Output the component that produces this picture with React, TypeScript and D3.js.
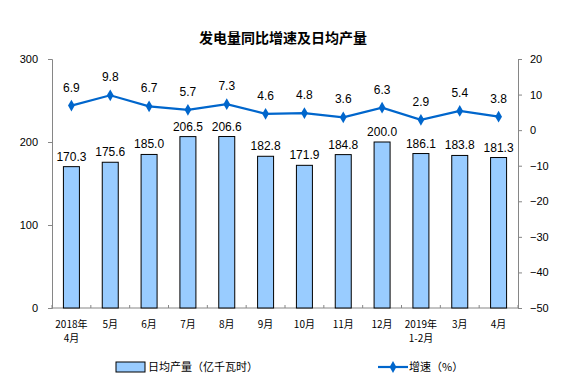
import React, { useEffect, useRef } from 'react';
import * as d3 from 'd3';

const categories = ['2018年\n4月', '5月', '6月', '7月', '8月', '9月', '10月', '11月', '12月', '2019年\n1-2月', '3月', '4月'];
const dailyOutput = [170.3, 175.6, 185.0, 206.5, 206.6, 182.8, 171.9, 184.8, 200.0, 186.1, 183.8, 181.3];
const growthRate = [6.9, 9.8, 6.7, 5.7, 7.3, 4.6, 4.8, 3.6, 6.3, 2.9, 5.4, 3.8];
const leftTicks = [0, 100, 200, 300];
const rightTicks = [-50, -40, -30, -20, -10, 0, 10, 20];

const W = 584;
const H = 392;
const MARGIN = { top: 59, right: 66, bottom: 84, left: 52 };

const App: React.FC = () => {
  const svgRef = useRef<SVGSVGElement>(null);

  useEffect(() => {
    const svg = d3.select(svgRef.current);
    svg.selectAll('*').remove();

    const chartW = W - MARGIN.left - MARGIN.right;
    const chartH = H - MARGIN.top - MARGIN.bottom;
    const g = svg.append('g').attr('transform', `translate(${MARGIN.left},${MARGIN.top})`);

    const x = d3.scaleBand().domain(categories).range([0, chartW]);
    const yL = d3.scaleLinear().domain([0, 300]).range([chartH, 0]);
    const yR = d3.scaleLinear().domain([-50, 20]).range([chartH, 0]);

    const axisColor = '#868686';
    const numFont = 'Liberation Sans, Arial, sans-serif';
    const cjkFont = 'Noto Sans CJK SC, sans-serif';

    // title
    svg.append('text')
      .attr('x', 283).attr('y', 43)
      .attr('text-anchor', 'middle')
      .style('font-family', cjkFont)
      .style('font-size', '14px')
      .style('font-weight', 'bold')
      .text('发电量同比增速及日均产量');

    // left axis
    const axL = g.append('g').call(d3.axisLeft(yL).tickValues(leftTicks).tickSize(4).tickPadding(10).tickFormat(d3.format('d')));
    axL.select('.domain').attr('stroke', axisColor);
    axL.selectAll('line').attr('stroke', axisColor);
    axL.selectAll('text').style('font-family', numFont).style('font-size', '11px').attr('fill', '#000');

    // right axis
    const axR = g.append('g').attr('transform', `translate(${chartW},0)`)
      .call(d3.axisRight(yR).tickValues(rightTicks).tickSize(4).tickPadding(8).tickFormat(d3.format('d')));
    axR.select('.domain').attr('stroke', axisColor);
    axR.selectAll('line').attr('stroke', axisColor);
    axR.selectAll('text').style('font-family', numFont).style('font-size', '11px').attr('fill', '#000');

    // bottom axis line with ticks between categories
    g.append('line')
      .attr('x1', 0).attr('x2', chartW).attr('y1', chartH).attr('y2', chartH)
      .attr('stroke', axisColor);
    g.selectAll('.btick')
      .data(d3.range(categories.length + 1))
      .enter().append('line')
      .attr('x1', i => i * x.step()).attr('x2', i => i * x.step())
      .attr('y1', chartH).attr('y2', chartH - 3)
      .attr('stroke', axisColor);

    // category labels
    const catG = g.selectAll('.cat')
      .data(categories)
      .enter().append('text')
      .attr('text-anchor', 'middle')
      .style('font-family', cjkFont)
      .style('font-size', '10px')
      .attr('fill', '#000');
    catG.each(function (d) {
      const lines = d.split('\n');
      const t = d3.select(this);
      lines.forEach((ln, i) => {
        t.append('tspan')
          .attr('x', x(d)! + x.bandwidth() / 2)
          .attr('y', chartH + 20 + i * 14)
          .text(ln);
      });
    });

    // bars
    const barW = 16;
    g.selectAll('.bar')
      .data(dailyOutput)
      .enter().append('rect')
      .attr('x', (d, i) => x(categories[i])! + (x.bandwidth() - barW) / 2)
      .attr('y', d => yL(d))
      .attr('width', barW)
      .attr('height', d => chartH - yL(d))
      .attr('fill', '#99CCFF')
      .attr('stroke', '#000')
      .attr('stroke-width', 1);

    g.selectAll('.barlabel')
      .data(dailyOutput)
      .enter().append('text')
      .attr('x', (d, i) => x(categories[i])! + x.bandwidth() / 2)
      .attr('y', d => yL(d) - 6)
      .attr('text-anchor', 'middle')
      .style('font-family', numFont)
      .style('font-size', '12px')
      .text(d => d.toFixed(1));

    // growth line
    const cx = (i: number) => x(categories[i])! + x.bandwidth() / 2;
    const line = d3.line<number>().x((d, i) => cx(i)).y(d => yR(d));
    g.append('path')
      .datum(growthRate)
      .attr('d', line)
      .attr('fill', 'none')
      .attr('stroke', '#0066CC')
      .attr('stroke-width', 2.2);

    const diamond = d3.symbol().type(d3.symbolDiamond).size(40);
    g.selectAll('.pt')
      .data(growthRate)
      .enter().append('path')
      .attr('d', diamond)
      .attr('transform', (d, i) => `translate(${cx(i)},${yR(d)})`)
      .attr('fill', '#0066CC');

    g.selectAll('.ptlabel')
      .data(growthRate)
      .enter().append('text')
      .attr('x', (d, i) => cx(i))
      .attr('y', d => yR(d) - 14)
      .attr('text-anchor', 'middle')
      .style('font-family', numFont)
      .style('font-size', '12px')
      .text(d => d.toFixed(1));

    // legend
    const lg = svg.append('g').attr('transform', 'translate(0,367)');
    lg.append('rect')
      .attr('x', 116).attr('y', -5).attr('width', 29).attr('height', 10)
      .attr('fill', '#99CCFF').attr('stroke', '#000');
    lg.append('text')
      .attr('x', 148).attr('y', 4)
      .style('font-family', cjkFont).style('font-size', '11px')
      .text('日均产量（亿千瓦时）');
    lg.append('line')
      .attr('x1', 378).attr('x2', 408).attr('y1', 0).attr('y2', 0)
      .attr('stroke', '#0066CC').attr('stroke-width', 2.2);
    lg.append('path')
      .attr('d', diamond)
      .attr('transform', 'translate(393,0)')
      .attr('fill', '#0066CC');
    lg.append('text')
      .attr('x', 409).attr('y', 4)
      .style('font-family', cjkFont).style('font-size', '11px')
      .text('增速（%）');
  }, []);

  return <svg ref={svgRef} width={W} height={H} style={{ position: 'absolute', left: 0, top: 0, background: '#fff' }} />;
};

export default App;
